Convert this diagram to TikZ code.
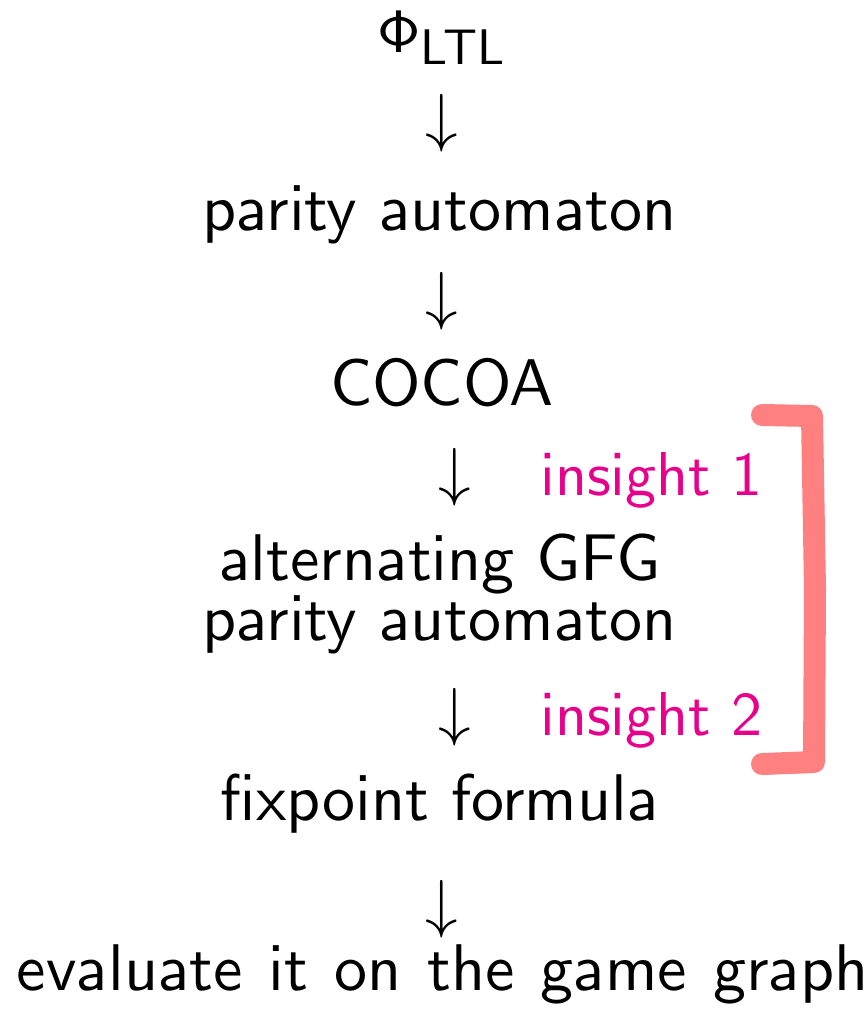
\documentclass[tikz,border=0pt]{standalone}
\usepackage{fix-cm}
\font\stepfont=cmss10 at 33pt
\font\insightfont=cmss10 at 31pt
\font\phifont=cmss10 at 30pt
\font\subfont=cmss10 at 25pt
\definecolor{insightpink}{RGB}{232,0,140}
\definecolor{bracketred}{RGB}{255,128,128}
\tikzset{
  step text/.style={anchor=base,inner sep=0pt,font=\stepfont},
  step arrow/.style={anchor=base,inner sep=0pt,font=\fontsize{32.5}{39}\selectfont},
  insight text/.style={anchor=base west,inner sep=0pt,text=insightpink,font=\insightfont},
}
\begin{document}
\begin{tikzpicture}[x=0.5pt,y=-0.5pt]
  \useasboundingbox (0,0) rectangle (867,1011);

  % 步骤
  \node[step text] (ltl) at (441,53) {{\phifont\char8}\raisebox{-6pt}{\subfont LTL}};
  \node[step arrow] (a1) at (442,140) {$\downarrow$};
  \node[step text] (par) at (440,230) {parity automaton};
  \node[step arrow] (a2) at (442,317) {$\downarrow$};
  \node[step text] (cocoa) at (442,405) {COCOA};
  \node[step arrow] (a3) at (455,493) {$\downarrow$};
  \node[step text] (alt) at (440,580) {alternating GFG};
  \node[step text] (alt2) at (440,640) {parity automaton};
  \node[step arrow] (a4) at (455,733) {$\downarrow$};
  \node[step text] (fix) at (440,820) {fixpoint formula};
  \node[step arrow] (a5) at (442,925) {$\downarrow$};
  \node[step text] (eval) at (443,990) {\spaceskip=13pt\relax evaluate it on the game graph};

  % 标注
  \node[insight text] (ins1) at (540,495) {insight 1};
  \node[insight text] (ins2) at (540,735) {insight 2};

  % 右括号
  \draw[bracketred,line width=11pt,line cap=round,line join=round]
    (762,415) -- (812,416) -- (815,590) -- (814,762) -- (762,764);
\end{tikzpicture}
\end{document}
